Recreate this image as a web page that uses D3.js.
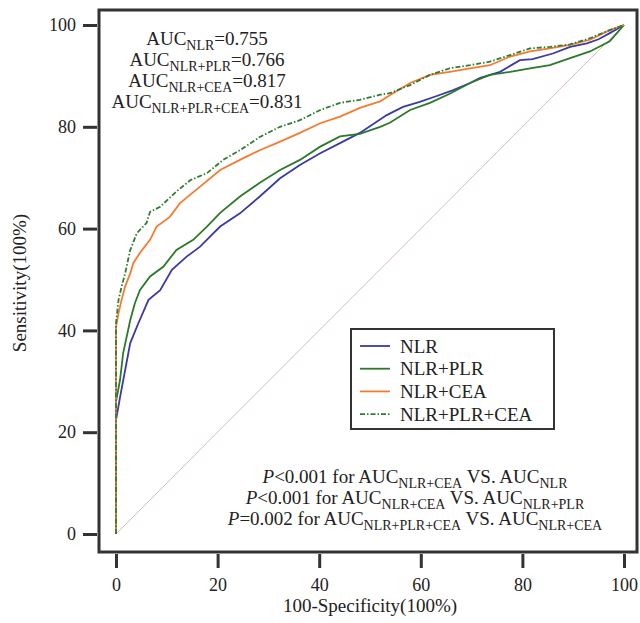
<!DOCTYPE html>
<html>
<head>
<meta charset="utf-8">
<script src="https://d3js.org/d3.v7.min.js"></script>
<style>
  body { margin: 0; background: #fff; }
  text { font-family: "Liberation Serif", "Times New Roman", serif; fill: #222; }
</style>
</head>
<body>
<div id="chart"></div>
<script>
// ROC curve data (x = 100-specificity, y = sensitivity)
const seriesNames = ["NLR", "NLR+PLR", "NLR+CEA", "NLR+PLR+CEA"];

const nlrX = [0, 0, 0.8, 1.8, 2.8, 4.4, 6.4, 8.7, 11, 13.9, 16.5, 20.5, 24.4, 28.3, 32.3, 36.2, 40.2, 44.1, 48, 53.3, 56.5, 59.8, 63, 66.4, 69.7, 71.7, 75.6, 79.5, 82, 86, 89.4, 92.7, 95, 97.2, 100];
const nlrY = [0, 22.4, 26.9, 32.2, 37.5, 41.4, 46, 47.9, 51.9, 54.5, 56.4, 60.4, 63, 66.3, 69.9, 72.5, 74.8, 76.8, 78.8, 82.3, 83.9, 84.9, 86, 87.2, 88.6, 89.6, 90.8, 93.1, 93.3, 94.4, 95.7, 96.4, 97.2, 98.4, 100];

const plrX = [0, 0, 0.8, 1.4, 2.8, 3.7, 4.7, 6.7, 9.3, 11.9, 15.2, 17.9, 20.5, 24.4, 28.3, 32.3, 36.2, 40.2, 44.1, 48, 52, 53.9, 57.9, 61.8, 65.7, 69.7, 73.6, 77.6, 81.5, 85.4, 89.4, 93.3, 97.2, 100];
const plrY = [0, 26, 30.3, 35.5, 42, 45.3, 47.9, 50.6, 52.5, 55.8, 57.8, 60.4, 63.1, 66.3, 69, 71.5, 73.5, 76.1, 78.1, 78.6, 80, 80.8, 83.3, 84.7, 86.5, 88.6, 90.2, 90.8, 91.5, 92.1, 93.5, 94.8, 96.8, 100];

const ceaX = [0, 0, 0.5, 1.1, 1.8, 2.8, 3.4, 4.7, 6.7, 8, 10.6, 12.6, 16.5, 20.5, 24.4, 28.3, 32.3, 36.2, 40.2, 44.1, 48, 52, 53.9, 57.9, 61.8, 65.7, 69.7, 73.6, 77.6, 81.5, 85.4, 89.4, 93.3, 97.2, 100];
const ceaY = [0, 40.7, 43.4, 46, 48.6, 51.2, 53.2, 55.2, 57.8, 60.4, 62.3, 65, 68.2, 71.5, 73.5, 75.4, 77.1, 78.8, 80.7, 82, 83.7, 85, 86.2, 88.6, 90.2, 90.8, 91.5, 92.1, 93.8, 94.8, 95.4, 96.1, 97.1, 99, 100];

const allX = [0, 0, 0.5, 1.1, 1.8, 2.8, 4.1, 6, 6.7, 8.7, 11.9, 14.6, 17.9, 21.1, 24.4, 28.3, 32.3, 36.2, 40.2, 44.1, 48, 52, 53.9, 57.9, 61.8, 65.7, 69.7, 73.6, 77.6, 81.5, 85.4, 89.4, 93.3, 97.2, 100];
const allY = [0, 41.4, 46, 48.6, 51.2, 55.8, 59.1, 61.1, 63.3, 64.3, 67.3, 69.5, 70.9, 73.5, 75.4, 78, 80, 81.3, 83.3, 84.7, 85.3, 86.3, 86.6, 88.2, 90.2, 91.5, 92.1, 92.8, 94.1, 95.4, 95.7, 96.2, 97.4, 99, 100];

const tickValues = [0, 20, 40, 60, 80, 100];
const aucLabels = [["NLR", "0.755"], ["NLR+PLR", "0.766"], ["NLR+CEA", "0.817"], ["NLR+PLR+CEA", "0.831"]];

const width = 640;
const height = 623;

const svg = d3.select("#chart")
    .append("svg")
    .attr("width", width)
    .attr("height", height);

const x = d3.scaleLinear().domain([0, 100]).range([116, 624]);
const y = d3.scaleLinear().domain([0, 100]).range([534, 25]);

// frame
svg.append("rect")
    .attr("x", 99)
    .attr("y", 10)
    .attr("width", 538)
    .attr("height", 542)
    .attr("fill", "none")
    .attr("stroke", "#333")
    .attr("stroke-width", 3);

// axes, ticks outside the frame
const yAxis = svg.append("g")
    .attr("transform", "translate(97,0)")
    .call(d3.axisLeft(y).tickValues(tickValues).tickSize(14).tickPadding(7));
const xAxis = svg.append("g")
    .attr("transform", "translate(0,554)")
    .call(d3.axisBottom(x).tickValues(tickValues).tickSize(14).tickPadding(10));

[xAxis, yAxis].forEach(a => {
    a.select(".domain").remove();
    a.selectAll("line").attr("stroke", "#333").attr("stroke-width", 3);
    a.selectAll("text")
        .attr("font-family", "Liberation Serif, serif")
        .attr("font-size", 18)
        .attr("fill", "#222");
});

svg.append("text")
    .attr("x", 370)
    .attr("y", 612)
    .attr("text-anchor", "middle")
    .attr("font-size", 19)
    .text("100-Specificity(100%)");

svg.append("text")
    .attr("transform", "translate(26,283) rotate(-90)")
    .attr("text-anchor", "middle")
    .attr("font-size", 19)
    .text("Sensitivity(100%)");

// reference diagonal
svg.append("line")
    .attr("x1", x(0)).attr("y1", y(0))
    .attr("x2", x(100)).attr("y2", y(100))
    .attr("stroke", "#dcbcb4")
    .attr("stroke-width", 1);

// curves
const series = [
    { name: seriesNames[0], xs: nlrX, ys: nlrY, color: "#3a3aa6", dash: null },
    { name: seriesNames[1], xs: plrX, ys: plrY, color: "#2a7a2a", dash: null },
    { name: seriesNames[2], xs: ceaX, ys: ceaY, color: "#f47c30", dash: null },
    { name: seriesNames[3], xs: allX, ys: allY, color: "#2e7d32", dash: "5,2,1.5,2" }
];

const line = d3.line()
    .x(d => x(d[0]))
    .y(d => y(d[1]));

svg.selectAll(".curve")
    .data(series)
    .enter()
    .append("path")
    .attr("class", "curve")
    .attr("d", s => line(s.xs.map((v, i) => [v, s.ys[i]])))
    .attr("fill", "none")
    .attr("stroke", s => s.color)
    .attr("stroke-width", 1.8)
    .attr("stroke-dasharray", s => s.dash);

// text with subscripts
function richText(parent, parts, px, py, anchor) {
    const t = parent.append("text")
        .attr("x", px)
        .attr("y", py)
        .attr("text-anchor", anchor)
        .attr("font-size", 19);
    let low = false;
    parts.forEach(p => {
        const sub = p[1] === true;
        const ts = t.append("tspan").text(p[0]);
        if (sub) {
            ts.attr("font-size", 14).attr("dy", low ? 0 : 5);
            low = true;
        } else {
            ts.attr("dy", low ? -5 : 0);
            low = false;
        }
    });
    return t;
}

aucLabels.forEach((d, i) => {
    richText(svg, [["AUC"], [d[0], true], ["=" + d[1]]], 207, 45 + i * 21, "middle");
});

// p-value notes
const pNotes = [
    [["P", "i"], ["<0.001 for AUC"], ["NLR+CEA", true], [" VS. AUC"], ["NLR", true]],
    [["P", "i"], ["<0.001 for AUC"], ["NLR+CEA", true], [" VS. AUC"], ["NLR+PLR", true]],
    [["P", "i"], ["=0.002 for AUC"], ["NLR+PLR+CEA", true], [" VS. AUC"], ["NLR+CEA", true]]
];
pNotes.forEach((parts, i) => {
    const t = richText(svg, parts, 415, 483 + i * 21, "middle");
    t.select("tspan").attr("font-style", "italic");
});

// legend
const legend = svg.append("g");
legend.append("rect")
    .attr("x", 351)
    .attr("y", 329)
    .attr("width", 203)
    .attr("height", 100)
    .attr("fill", "#fff")
    .attr("stroke", "#333")
    .attr("stroke-width", 2);

const items = legend.selectAll(".legend-item")
    .data(series)
    .enter()
    .append("g")
    .attr("class", "legend-item")
    .attr("transform", (d, i) => `translate(0,${346 + i * 22.7})`);

items.append("line")
    .attr("x1", 360).attr("x2", 390)
    .attr("stroke", d => d.color)
    .attr("stroke-width", 1.8)
    .attr("stroke-dasharray", d => d.dash);

items.append("text")
    .attr("x", 400)
    .attr("y", 6.5)
    .attr("font-size", 19)
    .text(d => d.name);
</script>
</body>
</html>
